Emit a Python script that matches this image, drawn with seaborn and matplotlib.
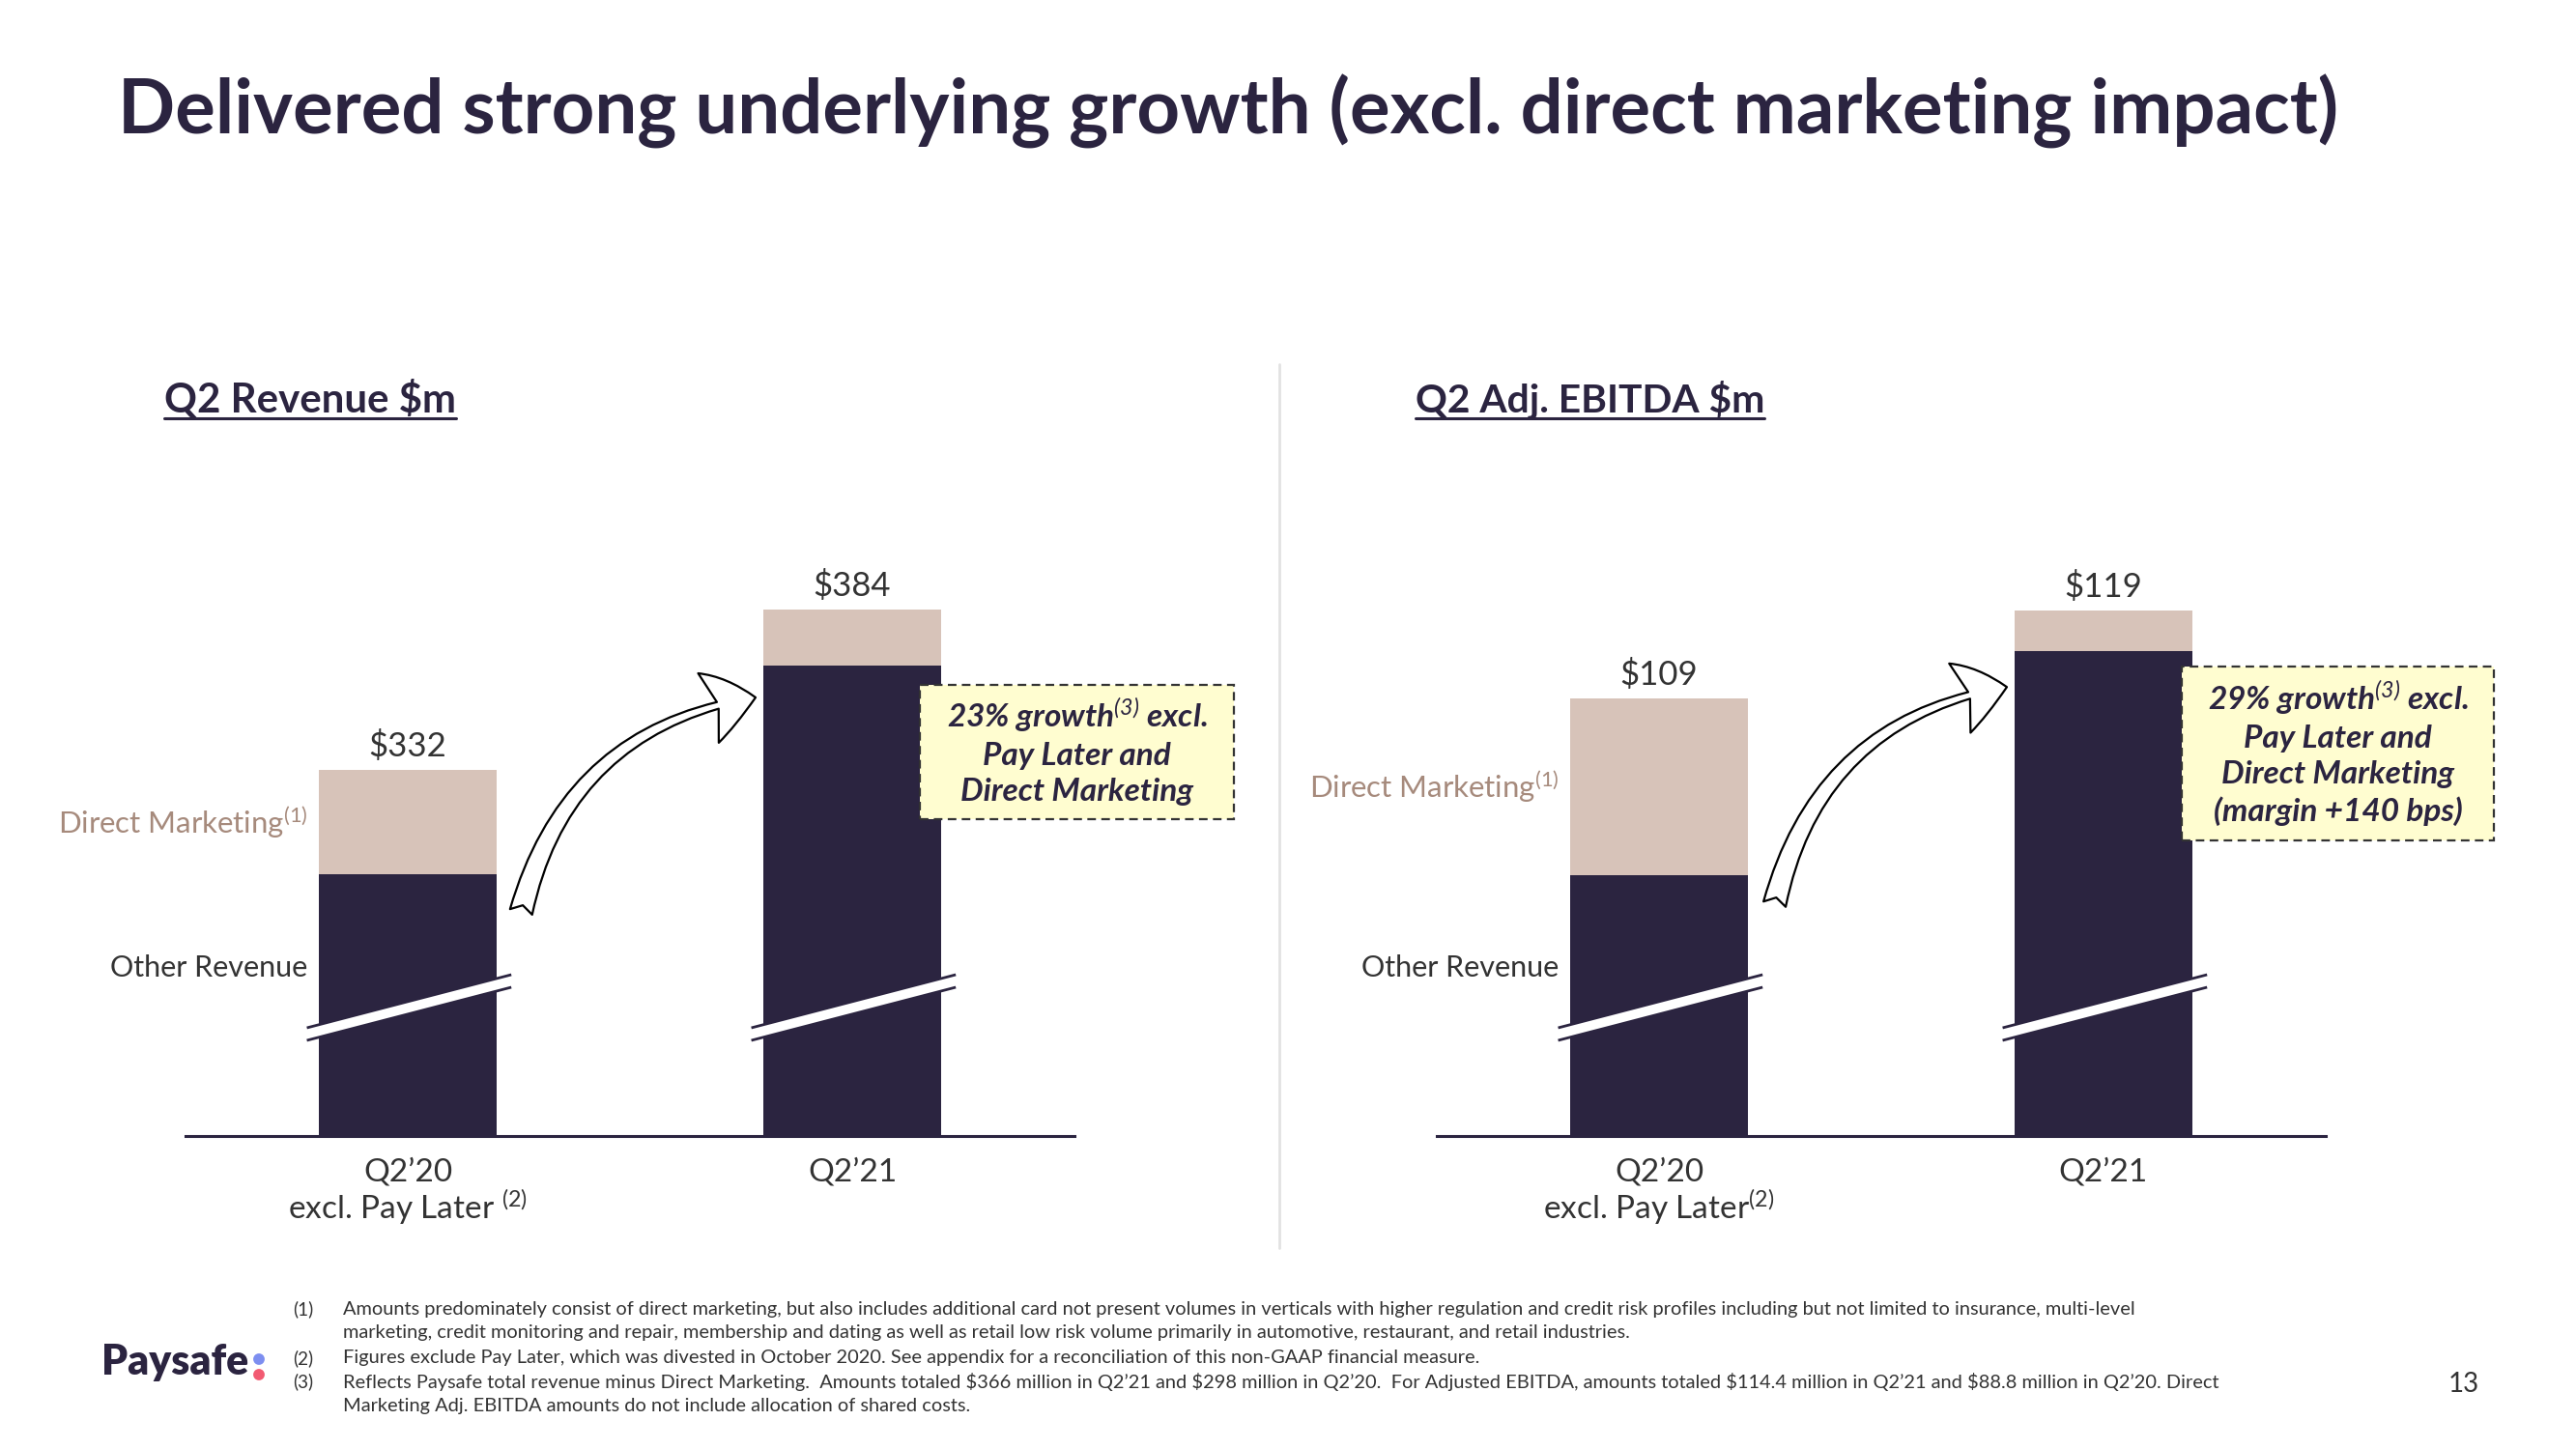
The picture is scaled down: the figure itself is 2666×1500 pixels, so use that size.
import numpy as np
import pandas as pd
import matplotlib
matplotlib.use("Agg")
import matplotlib.pyplot as plt
import seaborn as sns
from matplotlib.patches import FancyArrowPatch, Rectangle, Circle
from matplotlib.lines import Line2D
from matplotlib.transforms import IdentityTransform

# ---------------- data ----------------
periods = ["Q2’20", "Q2’21"]
revenue_total = [332, 384]
revenue_other = [298, 366]
ebitda_total = [109, 119]
ebitda_other = [88.8, 114.4]
revenue_labels = [r"\$332", r"\$384"]
ebitda_labels = [r"\$109", r"\$119"]
rev_ticklabels = ["Q2’20\nexcl. Pay Later $^{(2)}$", "Q2’21"]
ebitda_ticklabels = ["Q2’20\nexcl. Pay Later$^{(2)}$", "Q2’21"]
title = "Delivered strong underlying growth (excl. direct marketing impact)"
rev_title = r"Q2 Revenue \$m"
ebitda_title = r"Q2 Adj. EBITDA \$m"
rev_callout = "23% growth$^{\\mathsf{(3)}}$ excl.\nPay Later and\nDirect Marketing"
ebitda_callout = ("29% growth$^{\\mathsf{(3)}}$ excl.\nPay Later and\nDirect Marketing\n"
                  "(margin +140 bps)")
footnote_nums = ["(1)", "", "(2)", "(3)", ""]
footnote_lines = [
    "Amounts predominately consist of direct marketing, but also includes additional card not present volumes in verticals with higher regulation and credit risk profiles including but not limited to insurance, multi-level",
    "marketing, credit monitoring and repair, membership and dating as well as retail low risk volume primarily in automotive, restaurant, and retail industries.",
    "Figures exclude Pay Later, which was divested in October 2020. See appendix for a reconciliation of this non-GAAP financial measure.",
    r"Reflects Paysafe total revenue minus Direct Marketing.  Amounts totaled \$366 million in Q2’21 and \$298 million in Q2’20.  For Adjusted EBITDA, amounts totaled \$114.4 million in Q2’21 and \$88.8 million in Q2’20. Direct",
    "Marketing Adj. EBITDA amounts do not include allocation of shared costs.",
]

# ---------------- style ----------------
NAVY = "#2b2440"
TAN = "#d7c3b9"
TAN_TEXT = "#a68a7c"
TEXT = "#333333"
BOX_FILL = "#fffdd0"

W, H, DPI = 2666, 1500, 200

sns.set_theme(style="white")
plt.rcParams['font.family'] = ['Lato', 'DejaVu Sans']
plt.rcParams['mathtext.fontset'] = 'custom'
plt.rcParams['mathtext.rm'] = 'Lato'
plt.rcParams['mathtext.it'] = 'Lato:italic'
plt.rcParams['mathtext.bf'] = 'Lato:bold'
plt.rcParams['mathtext.sf'] = 'Lato:italic'

fig = plt.figure(figsize=(W / DPI, H / DPI), dpi=DPI)
fig.patch.set_facecolor("white")


def fx(px):
    return px / W


def fy(py):
    return 1 - py / H


AX_H = 800
BASE = 1176


def panel(left_px, totals, others, v0, scale, value_labels, ticklabels,
          arrow_start, arrow_end):
    ax = fig.add_axes([fx(left_px), fy(BASE), 920 / W, AX_H / H])
    df = pd.DataFrame({"period": periods, "total": totals, "other": others})
    sns.barplot(data=df, x="period", y="total", color=TAN, width=0.4,
                saturation=1, linewidth=0, ax=ax)
    sns.barplot(data=df, x="period", y="other", color=NAVY, width=0.4,
                saturation=1, linewidth=0, ax=ax)
    ax.set_xlim(-0.5, 1.5)
    ax.set_ylim(v0, v0 + AX_H / scale)
    ax.set(xlabel="", ylabel="")
    ax.set_yticks([])
    for s in ["left", "right", "top"]:
        ax.spines[s].set_visible(False)
    ax.spines["bottom"].set_color(NAVY)
    ax.spines["bottom"].set_linewidth(1.1)
    ax.set_facecolor("none")
    ax.set_xticks([0, 1])
    ax.set_xticklabels(ticklabels, fontsize=12, color=TEXT, linespacing=1.05)
    ax.tick_params(axis="x", length=0, pad=8)

    # value labels on top of stacked bars
    ax.bar_label(ax.containers[0], labels=value_labels, padding=3,
                 fontsize=12.5, color=TEXT)

    # segment labels
    xform = ax.get_xaxis_transform()
    ax.text(-0.225, others[0] + (totals[0] - others[0]) / 2,
            "Direct Marketing$^{(1)}$", ha="right", va="center",
            fontsize=11.2, color=TAN_TEXT)
    ax.text(-0.225, 0.218, "Other Revenue", transform=xform, ha="right",
            va="center", fontsize=11.0, color=TEXT)

    # axis-break marks
    for i in range(len(periods)):
        xs = [i - 0.227, i + 0.233]
        yc = [(BASE - 1070.5) / AX_H, (BASE - 1015.5) / AX_H]
        off = 6.5 / AX_H
        ax.plot(xs, yc, transform=xform, color="white", lw=4.4,
                solid_capstyle="butt", zorder=5, clip_on=False)
        for d in (-off, off):
            ax.plot(xs, [yc[0] + d, yc[1] + d], transform=xform, color=NAVY,
                    lw=1.0, solid_capstyle="butt", zorder=6, clip_on=False)

    # growth arrow
    arr = FancyArrowPatch(arrow_start, arrow_end, transform=xform,
                          connectionstyle="arc3,rad=-0.33",
                          arrowstyle="fancy,head_length=1.8,head_width=2.7,tail_width=0.85",
                          mutation_scale=10, fc="white", ec="black", lw=0.8,
                          shrinkA=0, shrinkB=0, clip_on=False, zorder=7)
    ax.add_patch(arr)
    return ax


ax1 = panel(192, revenue_total, revenue_other, 213.2, 3.19, revenue_labels,
            rev_ticklabels, (0.255, 0.29), (0.7826, 0.5675))
ax2 = panel(1487, ebitda_total, ebitda_other, 59.0, 9.06, ebitda_labels,
            ebitda_ticklabels, (0.26, 0.30), (0.7826, 0.581))

# callout boxes
for (x0, y0, w, h, txt) in [(952, 709, 325, 139, rev_callout),
                            (2258, 690, 323, 180, ebitda_callout)]:
    rect = Rectangle((fx(x0), fy(y0 + h)), w / W, h / H, transform=fig.transFigure,
                     fc=BOX_FILL, ec="#333333", lw=0.8, ls=(0, (4, 2.5)), zorder=10)
    fig.add_artist(rect)
    fig.text(fx(x0 + w / 2), fy(y0 + h / 2 - 1), txt, ha="center", va="center",
             fontsize=12, fontweight="bold", fontstyle="italic", color=NAVY,
             linespacing=1.33, zorder=11)

# separator
fig.add_artist(Line2D([fx(1324), fx(1324)], [fy(377), fy(1292)],
                      transform=fig.transFigure, color="#e2e2e2", lw=1.0))

# texts
t_title = fig.text(fx(122), fy(139), title, ha="left", va="baseline",
                   fontsize=24, fontweight="bold", color=NAVY)
t_rev = fig.text(fx(170), fy(426), rev_title, ha="left", va="baseline",
                 fontsize=14, fontweight="bold", color=NAVY)
t_eb = fig.text(fx(1465), fy(426), ebitda_title, ha="left", va="baseline",
                fontsize=14, fontweight="bold", color=NAVY)

fn_y = [1355, 1380, 1406, 1430, 1455]
fn_texts = []
for num, line, y in zip(footnote_nums, footnote_lines, fn_y):
    if num:
        fig.text(fx(303), fy(y), num, ha="left", va="center", fontsize=6.8, color=TEXT)
    fn_texts.append(fig.text(fx(355), fy(y), line, ha="left", va="center",
                             fontsize=6.5, color=TEXT))

t_logo = fig.text(fx(105), fy(1423), "Paysafe", ha="left", va="baseline",
                  fontsize=14, fontweight="heavy", color=NAVY)
fig.add_artist(Circle((268, H - 1407), 4.5, transform=IdentityTransform(),
                      color="#7d8ef0"))
fig.add_artist(Circle((268, H - 1423), 4.5, transform=IdentityTransform(),
                      color="#f25a72"))
fig.text(fx(2550), fy(1433), "13", ha="center", va="center", fontsize=10, color=TEXT)

# fit widths
fig.canvas.draw()
r = fig.canvas.get_renderer()


def fit(t, target):
    w = t.get_window_extent(r).width
    t.set_fontsize(t.get_fontsize() * target / w)


fit(t_title, 2300)
fit(t_rev, 303)
fit(t_eb, 362)
fit(t_logo, 152)
w0 = fn_texts[0].get_window_extent(r).width
fs = fn_texts[0].get_fontsize() * 1855 / w0
for t in fn_texts:
    t.set_fontsize(fs)

# underline section titles
for t in (t_rev, t_eb):
    bb = t.get_window_extent(r)
    yl = H - 433
    fig.add_artist(Line2D([bb.x0, bb.x1], [yl, yl], transform=IdentityTransform(),
                          color=NAVY, lw=1.1))

fig.savefig("out.png", dpi=DPI, facecolor="white")
